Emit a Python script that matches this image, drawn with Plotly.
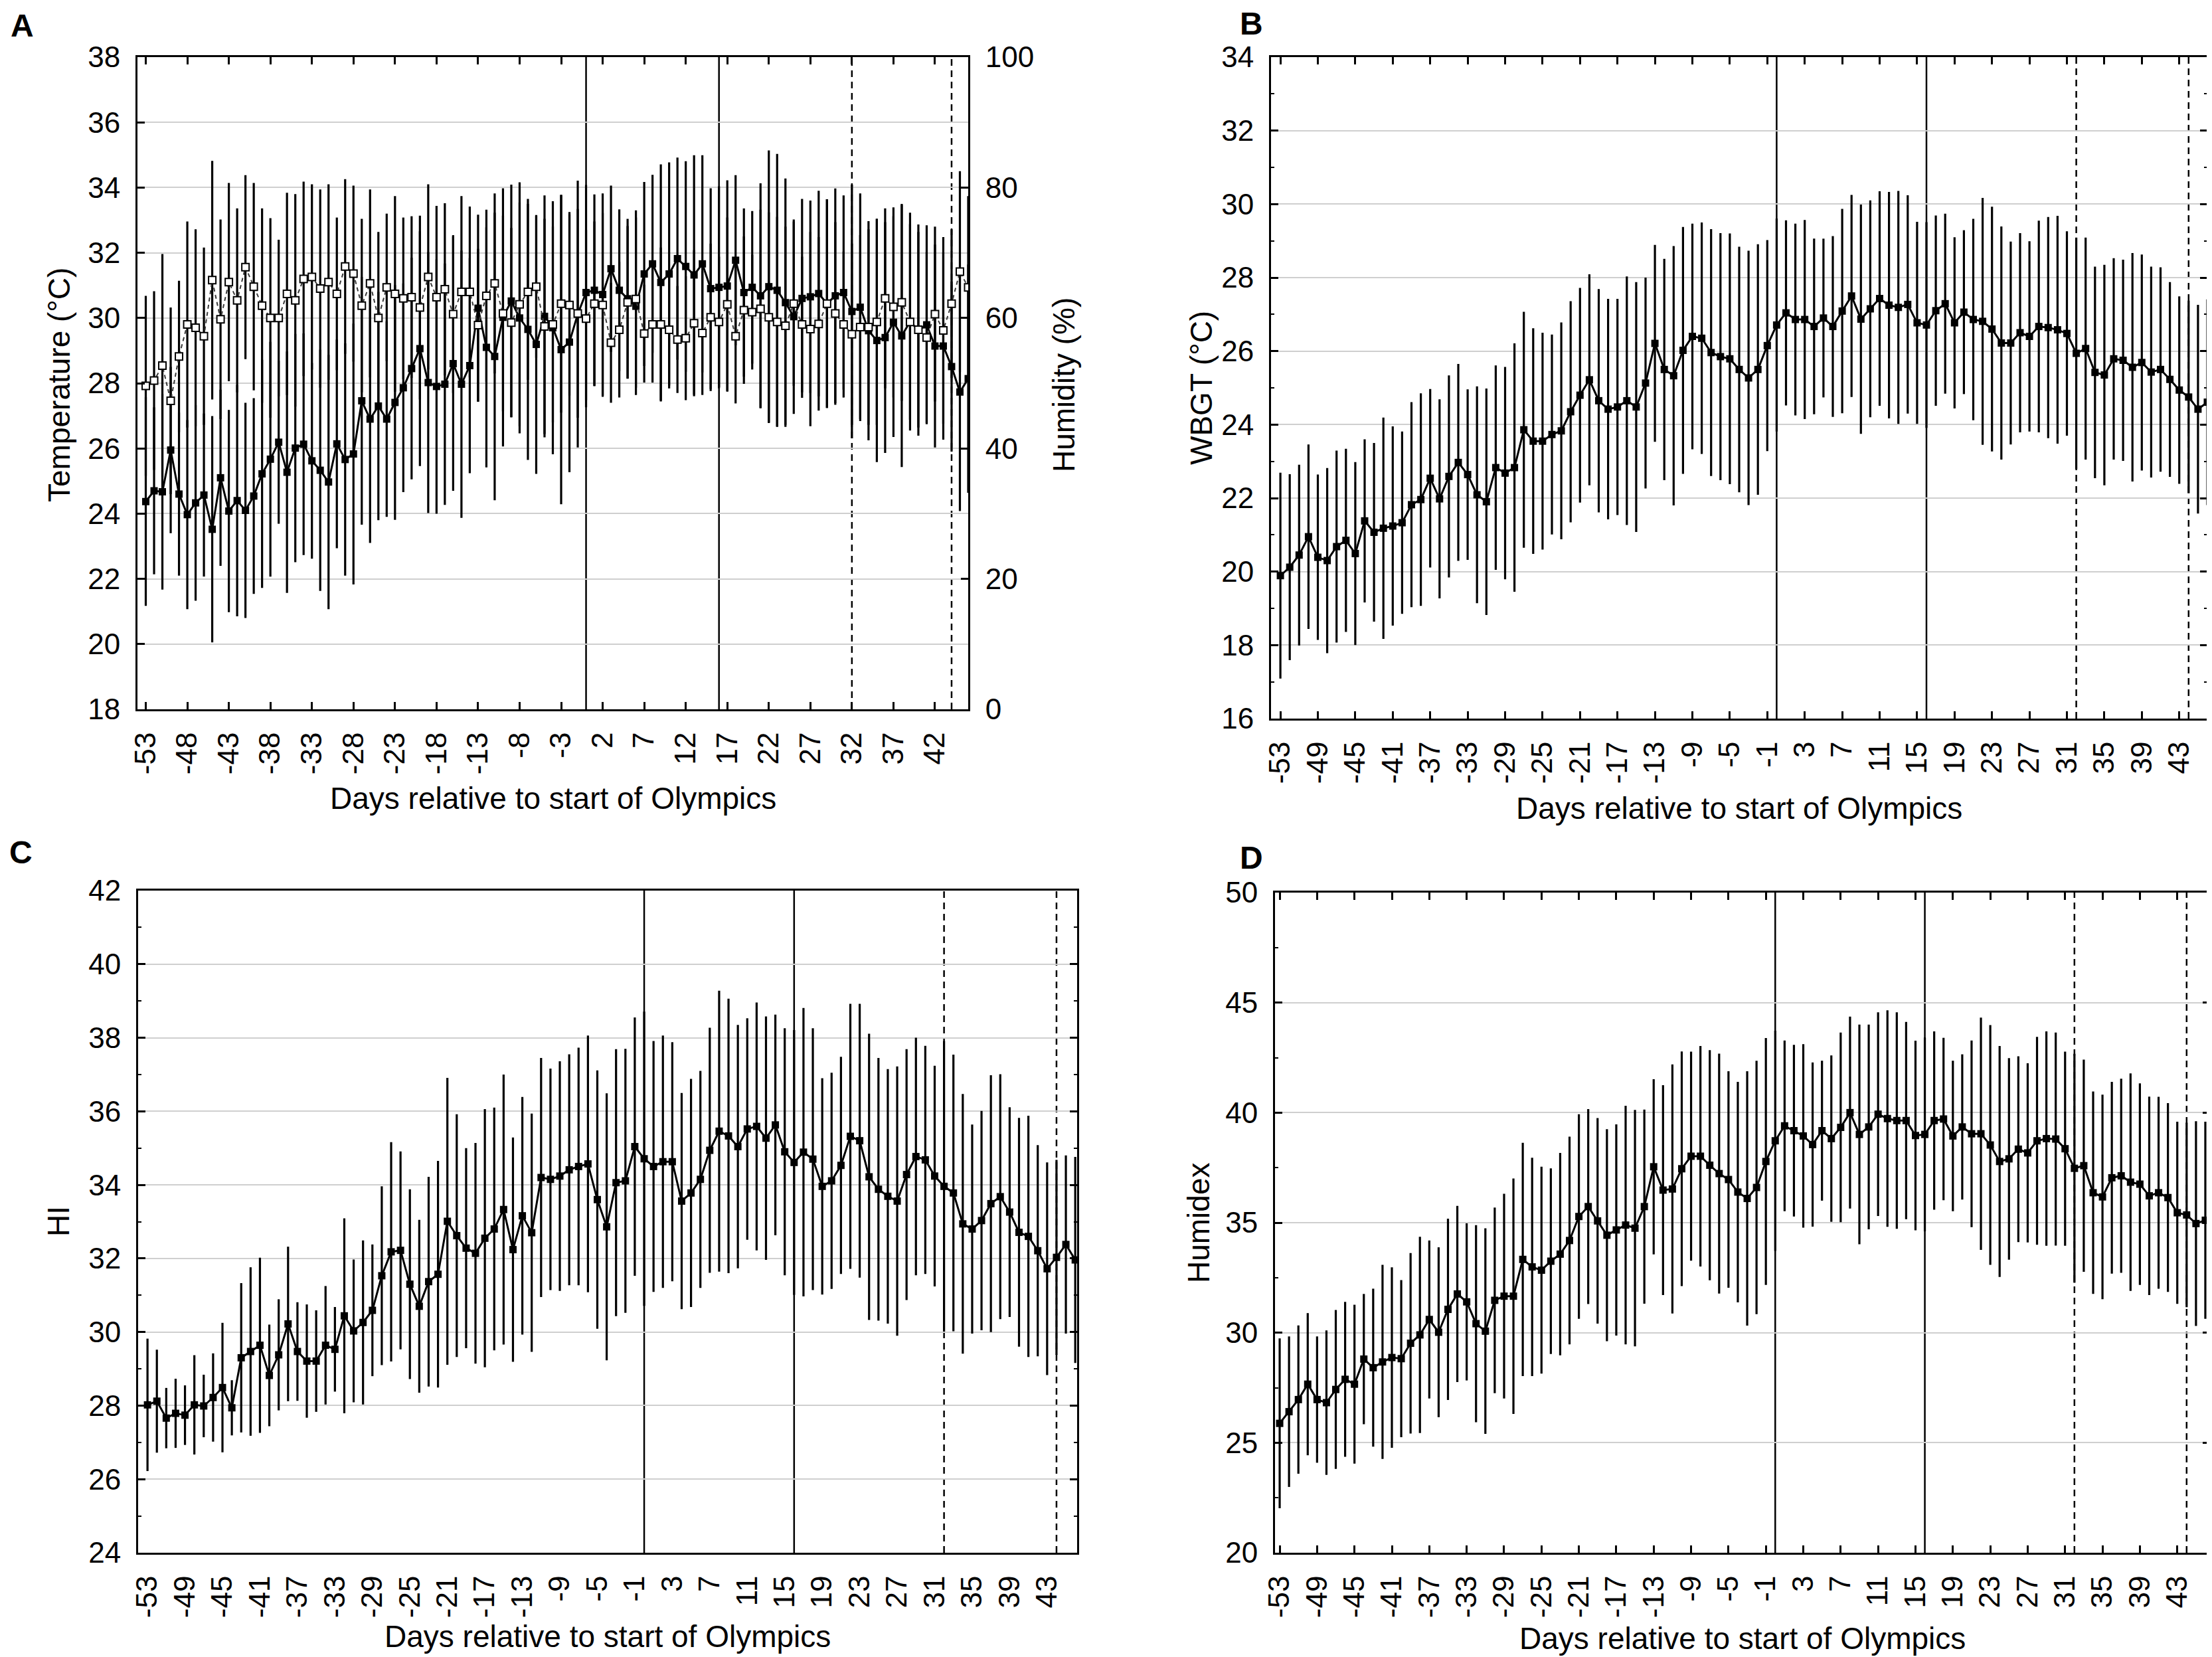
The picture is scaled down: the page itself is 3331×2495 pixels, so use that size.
import plotly.graph_objects as go

W, H = 3331, 2495
FONT = "Liberation Sans, Arial, sans-serif"

days = list(range(-53, 47))
olympic_days = [0, 16]
paralympic_days = [32, 44]

# A: temperature (degC) and relative humidity (%), mean and SD
temp_mean = [24.37, 24.70, 24.67, 25.95, 24.60, 23.97, 24.33, 24.57, 23.52, 25.10,
             24.08, 24.40, 24.10, 24.54, 25.22, 25.67, 26.19, 25.27, 26.01, 26.13,
             25.62, 25.33, 24.97, 26.14, 25.66, 25.83, 27.46, 26.90, 27.30, 26.90,
             27.41, 27.86, 28.45, 29.06, 28.02, 27.90, 27.97, 28.60, 27.97, 28.54,
             30.30, 29.10, 28.82, 30.02, 30.52, 30.00, 29.65, 29.19, 30.05, 29.70,
             29.03, 29.26, 30.12, 30.78, 30.85, 30.72, 31.51, 30.85, 30.59, 30.36,
             31.35, 31.66, 31.09, 31.35, 31.82, 31.58, 31.32, 31.66, 30.90, 30.94,
             30.98, 31.77, 30.78, 30.94, 30.68, 30.96, 30.85, 30.47, 30.04, 30.60,
             30.65, 30.75, 30.44, 30.68, 30.78, 30.20, 30.33, 29.61, 29.31, 29.40,
             29.87, 29.45, 29.89, 29.63, 29.79, 29.14, 29.14, 28.51, 27.73, 28.14]
temp_sd = [3.2, 2.56, 3.0, 2.55, 2.5, 2.9, 3.0, 2.5, 3.47, 2.7,
           3.1, 3.55, 3.3, 3.0, 3.5, 3.6, 2.5, 3.7, 3.5, 3.4,
           3.0, 3.7, 3.9, 3.2, 3.56, 4.0, 3.8, 3.8, 3.5, 3.0,
           3.6, 3.2, 3.4, 3.6, 4.0, 3.9, 3.7, 3.9, 4.1, 3.3,
           2.87, 3.68, 4.41, 3.96, 3.57, 3.54, 4.0, 3.97, 3.71, 3.88,
           4.74, 3.99, 4.09, 3.3, 2.94, 3.1, 2.55, 2.48, 2.45, 2.72,
           2.82, 2.73, 3.62, 3.42, 3.1, 3.23, 3.67, 3.33, 3.08, 3.1,
           3.24, 2.61, 2.58, 2.34, 3.45, 4.18, 4.18, 3.81, 2.98, 3.05,
           2.95, 3.15, 3.2, 3.29, 2.98, 3.89, 3.49, 3.36, 3.73, 3.54,
           3.52, 4.02, 3.34, 3.24, 3.05, 3.11, 2.87, 2.61, 3.65, 3.5]
hum_mean = [49.6, 50.4, 52.7, 47.3, 54.1, 59.0, 58.5, 57.2, 65.8, 59.8,
            65.5, 62.7, 67.8, 64.8, 61.9, 60.0, 60.0, 63.7, 62.7, 66.0,
            66.3, 64.5, 65.5, 63.7, 67.9, 66.8, 61.9, 65.3, 60.0, 64.7,
            63.7, 63.0, 63.2, 61.6, 66.3, 63.2, 64.4, 60.6, 64.0, 64.0,
            58.9, 63.4, 65.3, 60.7, 59.3, 62.1, 64.0, 64.8, 58.7, 59.0,
            62.2, 62.0, 60.7, 59.9, 62.2, 62.0, 56.2, 58.2, 62.4, 62.9,
            57.6, 59.0, 59.0, 58.2, 56.7, 56.9, 59.2, 57.7, 60.1, 59.4,
            62.1, 57.2, 61.2, 60.9, 61.4, 60.1, 59.4, 58.8, 62.2, 59.0,
            58.3, 59.1, 62.2, 60.7, 59.0, 57.5, 58.6, 58.6, 59.4, 63.0,
            61.7, 62.4, 59.4, 58.2, 57.0, 60.6, 58.1, 62.2, 67.1, 64.7]
hum_sd = [13.8, 13.7, 17.1, 14.3, 11.6, 15.8, 15.1, 13.6, 18.3, 15.3,
          15.2, 14.1, 14.1, 15.9, 14.9, 15.3, 12.0, 15.5, 16.3, 14.9,
          14.2, 15.2, 15.0, 11.7, 13.4, 13.5, 13.3, 14.4, 13.2, 11.3,
          15.0, 12.4, 12.4, 14.1, 14.2, 14.0, 13.2, 12.1, 14.7, 13.1,
          11.7, 13.2, 13.8, 15.0, 14.5, 18.7, 13.5, 10.9, 16.5, 15.0,
          16.7, 13.9, 16.0, 13.6, 12.6, 14.1, 9.2, 10.4, 11.7, 13.6,
          7.5, 8.9, 11.8, 9.0, 8.2, 9.5, 11.2, 9.5, 11.3, 10.0,
          13.3, 10.3, 11.3, 8.8, 15.2, 16.1, 16.1, 15.2, 12.6, 10.4,
          14.9, 13.3, 16.0, 14.0, 11.2, 13.9, 14.1, 15.0, 15.8, 13.8,
          13.9, 15.1, 15.0, 15.0, 13.1, 13.4, 14.3, 11.4, 15.4, 14.0]

# B: WBGT
wbgt_mean = [19.89, 20.12, 20.45, 20.95, 20.39, 20.30, 20.68, 20.85, 20.49, 21.38,
             21.07, 21.18, 21.24, 21.33, 21.82, 21.96, 22.54, 21.98, 22.59, 22.97,
             22.64, 22.09, 21.90, 22.83, 22.68, 22.83, 23.86, 23.55, 23.55, 23.73,
             23.83, 24.35, 24.80, 25.22, 24.65, 24.42, 24.48, 24.65, 24.48, 25.13,
             26.21, 25.50, 25.33, 26.02, 26.40, 26.35, 25.96, 25.85, 25.79, 25.50,
             25.27, 25.50, 26.15, 26.71, 27.04, 26.86, 26.86, 26.67, 26.90, 26.67,
             27.09, 27.50, 26.87, 27.15, 27.43, 27.25, 27.19, 27.27, 26.77, 26.71,
             27.10, 27.29, 26.77, 27.06, 26.86, 26.81, 26.60, 26.22, 26.22, 26.50,
             26.40, 26.67, 26.64, 26.58, 26.48, 25.94, 26.07, 25.42, 25.35, 25.79,
             25.75, 25.56, 25.69, 25.43, 25.50, 25.23, 24.94, 24.75, 24.42, 24.61]
wbgt_sd = [2.8, 2.53, 2.46, 2.51, 2.25, 2.52, 2.61, 2.49, 2.49, 2.22,
           2.43, 3.01, 2.71, 2.48, 2.79, 2.89, 2.43, 2.71, 2.75, 2.68,
           2.32, 2.95, 3.08, 2.78, 2.89, 3.38, 3.21, 3.07, 2.95, 2.72,
           2.95, 3.01, 2.92, 2.87, 3.04, 3.0, 2.94, 3.38, 3.40, 2.87,
           2.68, 3.01, 3.53, 3.36, 3.07, 3.15, 3.36, 3.36, 3.41, 3.34,
           3.46, 3.41, 2.87, 2.9, 2.52, 2.61, 2.71, 2.39, 2.16, 2.46,
           2.78, 2.75, 3.12, 2.95, 2.92, 3.08, 3.17, 2.97, 2.75, 2.8,
           2.59, 2.45, 2.33, 2.23, 2.74, 3.36, 3.33, 3.17, 2.76, 2.71,
           2.59, 2.88, 3.01, 3.10, 2.78, 3.15, 3.02, 2.88, 3.0, 2.74,
           2.74, 3.11, 2.94, 2.87, 2.78, 2.65, 2.55, 2.62, 2.84, 2.8]

# C: heat index
hi_mean = [28.02, 28.12, 27.66, 27.79, 27.74, 28.02, 27.99, 28.22, 28.49, 27.94,
           29.30, 29.47, 29.64, 28.82, 29.38, 30.22, 29.47, 29.21, 29.21, 29.64,
           29.53, 30.44, 30.03, 30.26, 30.59, 31.53, 32.18, 32.22, 31.30, 30.70,
           31.37, 31.57, 33.01, 32.62, 32.28, 32.14, 32.55, 32.80, 33.33, 32.24,
           33.16, 32.70, 34.20, 34.15, 34.24, 34.41, 34.50, 34.57, 33.60, 32.86,
           34.06, 34.11, 35.04, 34.71, 34.50, 34.63, 34.63, 33.56, 33.78, 34.15,
           34.94, 35.46, 35.33, 35.04, 35.52, 35.59, 35.27, 35.63, 34.90, 34.61,
           34.89, 34.70, 33.96, 34.11, 34.53, 35.32, 35.20, 34.22, 33.88, 33.69,
           33.56, 34.28, 34.77, 34.68, 34.24, 33.96, 33.78, 32.94, 32.80, 33.03,
           33.49, 33.68, 33.26, 32.71, 32.60, 32.21, 31.72, 32.03, 32.38, 31.96]
hi_sd = [1.80, 1.40, 0.82, 0.94, 0.81, 1.35, 0.85, 1.20, 1.76, 0.75,
         2.03, 2.29, 2.38, 1.38, 1.51, 2.10, 1.34, 1.54, 1.38, 1.61,
         1.15, 2.65, 1.94, 2.23, 1.79, 2.43, 2.98, 2.69, 2.58, 2.35,
         2.85, 3.08, 3.90, 3.30, 2.72, 3.0, 3.51, 3.30, 3.67, 3.05,
         3.23, 3.24, 3.25, 3.01, 3.12, 3.14, 3.23, 3.49, 3.51, 3.63,
         3.63, 3.59, 3.51, 4.0, 3.41, 3.43, 3.25, 2.94, 3.10, 2.95,
         3.33, 3.82, 3.73, 3.31, 3.01, 3.37, 3.31, 3.0, 3.36, 3.6,
         3.92, 3.56, 2.94, 2.94, 2.95, 3.60, 3.72, 3.89, 3.57, 3.46,
         3.66, 3.41, 3.23, 3.10, 3.0, 3.95, 3.76, 3.53, 2.84, 2.98,
         3.49, 3.33, 2.85, 3.11, 3.28, 2.87, 2.89, 2.65, 2.42, 2.8]

# D: humidex
hdx_mean = [25.88, 26.41, 26.96, 27.66, 26.96, 26.82, 27.42, 27.88, 27.66, 28.80,
            28.41, 28.67, 28.87, 28.82, 29.52, 29.90, 30.60, 30.02, 31.06, 31.76,
            31.40, 30.41, 30.07, 31.47, 31.66, 31.66, 33.33, 32.99, 32.84, 33.25,
            33.57, 34.19, 35.28, 35.73, 35.08, 34.43, 34.67, 34.89, 34.75, 35.73,
            37.54, 36.48, 36.53, 37.45, 38.02, 38.02, 37.61, 37.23, 36.96, 36.39,
            36.10, 36.60, 37.78, 38.72, 39.40, 39.18, 38.94, 38.55, 39.18, 38.82,
            39.33, 40.00, 39.01, 39.35, 39.93, 39.73, 39.64, 39.64, 38.96, 39.01,
            39.64, 39.71, 38.94, 39.35, 39.04, 39.04, 38.53, 37.78, 37.90, 38.34,
            38.17, 38.72, 38.82, 38.80, 38.36, 37.47, 37.59, 36.36, 36.17, 37.04,
            37.13, 36.84, 36.75, 36.22, 36.36, 36.14, 35.45, 35.35, 34.96, 35.11]
hdx_sd = [3.86, 3.42, 3.37, 3.23, 2.87, 3.28, 3.61, 3.52, 3.61, 2.96,
          3.59, 4.41, 4.10, 3.57, 4.10, 4.46, 3.59, 3.86, 4.12, 4.0,
          3.57, 4.48, 4.67, 4.22, 4.65, 5.35, 5.30, 4.96, 4.70, 4.22,
          4.60, 4.72, 4.65, 4.43, 4.67, 4.82, 4.80, 5.42, 5.37, 4.41,
          3.98, 4.77, 5.66, 5.33, 4.75, 5.01, 5.23, 5.45, 4.92, 5.01,
          5.78, 5.76, 5.61, 5.0, 3.88, 3.90, 4.17, 3.73, 3.18, 3.78,
          4.31, 4.36, 4.99, 4.65, 4.63, 4.92, 4.92, 4.48, 4.31, 4.4,
          4.05, 3.69, 3.42, 3.30, 4.24, 5.28, 5.45, 5.25, 4.58, 4.22,
          4.07, 4.72, 4.87, 4.84, 4.41, 5.20, 4.82, 4.60, 4.65, 4.36,
          4.41, 4.94, 4.58, 4.51, 4.36, 4.29, 4.14, 4.19, 4.65, 4.48]

ticks_a = list(range(-53, 43, 5))
ticks_4 = list(range(-53, 44, 4))


def fx(px):
    return px / W


def fy(py):
    return 1 - py / H


def series(y, sd, xa, ya, open_marker=False):
    if open_marker:
        line = dict(color="#3a3a3a", width=2, dash="6px,5px")
        marker = dict(symbol="square", size=11, color="white",
                      line=dict(color="black", width=2))
    else:
        line = dict(color="black", width=3)
        marker = dict(symbol="square", size=11, color="black")
    return go.Scatter(x=days, y=y, mode="lines+markers", line=line, marker=marker,
                      error_y=dict(type="data", array=sd, visible=True, width=0,
                                   thickness=3.2, color="black"),
                      xaxis=xa, yaxis=ya, showlegend=False)


fig = go.Figure()
fig.add_trace(series(hum_mean, hum_sd, "x", "y5", open_marker=True))
fig.add_trace(series(temp_mean, temp_sd, "x", "y"))
fig.add_trace(series(wbgt_mean, wbgt_sd, "x2", "y2"))
fig.add_trace(series(hi_mean, hi_sd, "x3", "y3"))
fig.add_trace(series(hdx_mean, hdx_sd, "x4", "y4"))

tick_font = dict(family=FONT, size=44, color="black")
base = dict(showline=True, linecolor="black", linewidth=3, ticks="inside",
            ticklen=11, tickwidth=3, tickcolor="black", tickfont=tick_font,
            zeroline=False, ticklabelstandoff=14, automargin=False)


def xaxis(domain, anchor, rng, vals, **kw):
    # hyphen-minus labels, as in the original figure
    d = dict(base, domain=domain, anchor=anchor, range=rng, tickmode="array",
             tickvals=vals, ticktext=[str(v) for v in vals], tickangle=-90,
             showgrid=False, mirror="ticks")
    d.update(kw)
    return d


def yaxis(domain, anchor, rng, dtick, minor=None, **kw):
    d = dict(base, domain=domain, anchor=anchor, range=rng, tick0=rng[0],
             dtick=dtick, showgrid=True, gridcolor="#cfcfcf", gridwidth=2,
             mirror="ticks")
    if minor:
        d["minor"] = dict(ticks="inside", ticklen=5, tickwidth=2,
                          tickcolor="black", dtick=minor, showgrid=False)
    d.update(kw)
    return d


dom_a = ([fx(199), fx(1450)], [fy(1060), fy(78)])
dom_b = ([fx(1906), fx(3316)], [fy(1074), fy(78)])
dom_c = ([fx(200), fx(1614)], [fy(2330), fy(1333)])
dom_d = ([fx(1912), fx(3320)], [fy(2330), fy(1336)])

fig.update_layout(
    template="none",
    width=W, height=H, margin=dict(l=0, r=0, t=0, b=0, autoexpand=False),
    paper_bgcolor="white", plot_bgcolor="white",
    font=dict(family=FONT, color="black"),
    xaxis=xaxis(dom_a[0], "y", [-54, 46], ticks_a),
    yaxis=yaxis(dom_a[1], "x", [18, 38], 2, mirror=False),
    yaxis5=dict(base, overlaying="y", side="right", anchor="x", range=[0, 100],
                tick0=0, dtick=20, showgrid=False),
    xaxis2=xaxis(dom_b[0], "y2", [-54, 46], ticks_4),
    yaxis2=yaxis(dom_b[1], "x2", [16, 34], 2, minor=1),
    xaxis3=xaxis(dom_c[0], "y3", [-54, 46.2], ticks_4, ticks="", mirror=True),
    xaxis5=dict(base, overlaying="x3", anchor="y3", range=[-54, 46.2],
                tickmode="array", tickvals=ticks_a, showticklabels=False,
                showgrid=False, mirror="ticks"),
    yaxis3=yaxis(dom_c[1], "x3", [24, 42], 2, minor=1),
    xaxis4=xaxis(dom_d[0], "y4", [-53.5, 46.5], ticks_4),
    yaxis4=yaxis(dom_d[1], "x4", [20, 50], 5, minor=2.5),
)

# Olympic (solid) and Paralympic (dashed) opening/closing days
shapes = []
for xa, ya in [("x", "y"), ("x2", "y2"), ("x3", "y3"), ("x4", "y4")]:
    for d in olympic_days:
        shapes.append(dict(type="line", xref=xa, yref=ya + " domain", x0=d, x1=d,
                           y0=0, y1=1, line=dict(color="black", width=2.5),
                           layer="below"))
    for d in paralympic_days:
        shapes.append(dict(type="line", xref=xa, yref=ya + " domain", x0=d, x1=d,
                           y0=0, y1=1,
                           line=dict(color="black", width=2.5, dash="10px,7px"),
                           layer="below"))
fig.update_layout(shapes=shapes)

title_font = dict(family=FONT, size=46, color="black")
letter_font = dict(family=FONT, size=48, color="black")
xlabel = "Days relative to start of Olympics"
notes = [
    ("Temperature (°C)", 81, 572, -90, title_font),
    ("Humidity (%)", 1594, 572, -90, title_font),
    (xlabel, 825, 1194, 0, title_font),
    ("WBGT (°C)", 1801, 576, -90, title_font),
    (xlabel, 2611, 1209, 0, title_font),
    ("HI", 80, 1831, -90, title_font),
    (xlabel, 907, 2456, 0, title_font),
    ("Humidex", 1797, 1833, -90, title_font),
    (xlabel, 2616, 2459, 0, title_font),
    ("<b>A</b>", 25, 30, 0, letter_font),
    ("<b>B</b>", 1876, 28, 0, letter_font),
    ("<b>C</b>", 23, 1275, 0, letter_font),
    ("<b>D</b>", 1876, 1283, 0, letter_font),
]
for text, px, py, ang, fnt in notes:
    fig.add_annotation(text=text, x=fx(px), y=fy(py), xref="paper", yref="paper",
                       xanchor="center", yanchor="middle", textangle=ang,
                       showarrow=False, font=fnt)

fig.write_html("out.html")
